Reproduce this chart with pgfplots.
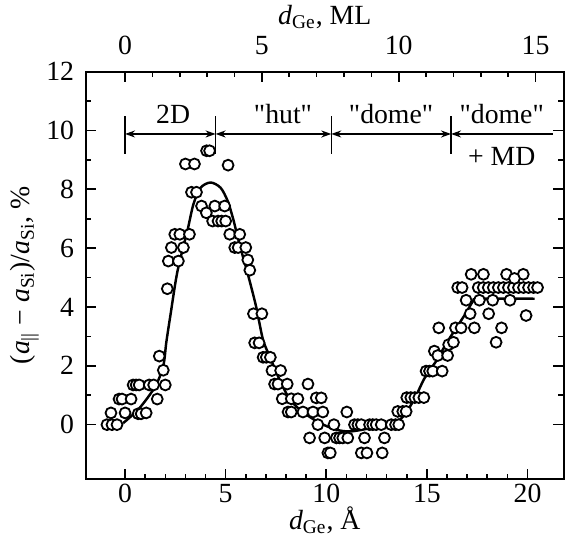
\documentclass[border=0pt]{standalone}
\usepackage{fontspec}
\setmainfont{Liberation Serif}
\usepackage{pgfplots}
\pgfplotsset{compat=1.18}
\usetikzlibrary{arrows.meta}

\begin{document}
\begin{tikzpicture}
\pgfplotsset{
  every axis/.append style={
    width=224pt, height=191pt, scale only axis,
    axis line style={line width=0.95pt},
    tick style={line width=0.75pt, black},
    major tick length=4.8pt, minor tick length=2.6pt,
    tick align=inside,
    tick label style={font=\fontsize{13}{15.5}\selectfont},
    label style={font=\fontsize{13}{15.5}\selectfont, inner sep=0pt},
    /pgf/number format/assume math mode=true,
  }
}
\begin{axis}[
  xmin=-1.95, xmax=21.8, ymin=-1.85, ymax=12,
  xtick={0,5,...,20}, minor x tick num=4,
  ytick={0,2,...,12}, minor y tick num=1,
  xtick pos=bottom, ytick pos=both, yticklabel pos=left,
  xticklabel style={yshift=1.2pt},
  yticklabel style={xshift=-2pt},
  xlabel={\textit{d}\textsubscript{Ge}, Å},
  ylabel={(\textit{a}\textsubscript{||} − \textit{a}\textsubscript{Si})/\textit{a}\textsubscript{Si}, \%},
  xlabel style={yshift=1.5pt},
  clip=false,
]
% fitted curve
\addplot[smooth, tension=0.5, line width=1.15pt] coordinates {
  (-0.1,0.05) (0.7,0.55) (1.5,1.3) (1.9,2.0) (2.05,2.8) (2.25,3.7)
  (2.6,5.2) (3.1,6.6) (3.4,7.5) (3.75,8.05) (4.25,8.23) (4.75,8.05)
  (5.1,7.6) (5.37,7.0) (5.55,6.5) (5.8,5.85) (6.05,5.25) (6.5,4.05)
  (6.85,2.9) (7.2,2.3) (7.7,1.5) (8.2,0.85) (8.85,0.42) (9.7,0.05)
  (10.5,-0.17) (11.2,-0.23) (12.3,-0.11) (13.3,-0.02) (13.9,0.35)
  (14.4,0.9) (14.9,1.6) (15.5,2.2) (16.0,2.8) (16.9,3.75) (17.3,4.2)
  (17.6,4.28) (20.35,4.28)
};
% measured points
\addplot[only marks, mark=*, mark size=2.55pt,
  mark options={line width=0.85pt, draw=black, fill=white}] coordinates {
  (-0.9,0) (-0.65,0) (-0.4,0)
  (-0.7,0.4) (0.0,0.4) (0.65,0.37) (0.8,0.37) (1.05,0.4)
  (-0.3,0.87) (-0.15,0.87) (0.3,0.87) (1.6,0.87)
  (0.4,1.35) (0.55,1.35) (0.7,1.35) (1.2,1.35) (1.42,1.35) (2.0,1.35)
  (1.9,1.85) (1.7,2.33) (2.1,4.62)
  (2.15,5.56) (2.65,5.56) (2.3,6.02) (2.9,6.02) (2.47,6.47) (2.72,6.47) (3.2,6.47)
  (3.3,7.9) (3.55,7.9) (3.0,8.86) (3.45,8.86) (4.05,9.31) (4.2,9.31)
  (3.8,7.43) (4.04,7.2) (4.46,7.43) (4.95,7.43)
  (4.35,6.92) (4.62,6.92) (4.8,6.92) (5.0,6.92) (5.12,8.82)
  (5.2,6.47) (5.7,6.47) (5.45,6.02) (5.62,6.02) (6.0,6.02) (6.1,5.6) (6.2,5.25)
  (6.38,3.77) (6.8,3.77) (6.44,2.78) (6.66,2.78) (6.86,2.29) (7.02,2.29) (7.22,2.29)
  (7.3,1.84) (7.73,1.84) (7.43,1.38) (7.6,1.38) (8.06,1.38) (9.09,1.38)
  (7.81,0.88) (8.26,0.88) (8.59,0.88) (9.5,0.91) (9.75,0.91)
  (8.1,0.43) (8.26,0.43) (8.84,0.43) (9.34,0.43) (9.83,0.43) (11.02,0.43)
  (9.58,0) (10.38,0) (11.4,0) (11.57,0) (11.74,0) (12.15,0) (12.31,0)
  (12.48,0) (12.73,0) (13.23,0) (13.44,0) (13.6,0)
  (9.17,-0.45) (9.92,-0.45) (10.5,-0.45) (10.66,-0.45) (10.82,-0.45)
  (11.07,-0.45) (11.9,-0.45) (12.89,-0.45)
  (10.08,-0.96) (10.2,-0.96) (11.74,-0.96) (12.02,-0.96) (12.78,-0.96)
  (13.55,0.45) (13.8,0.45) (13.97,0.45)
  (14.0,0.92) (14.2,0.92) (14.4,0.92) (14.6,0.92) (14.85,0.92)
  (14.96,1.82) (15.13,1.82) (15.29,1.82) (15.76,1.82)
  (15.37,2.5) (15.54,2.35) (16.03,2.35) (16.08,2.72) (16.32,2.8) (18.44,2.8)
  (15.59,3.29) (16.42,3.29) (16.7,3.29) (17.36,3.29) (18.71,3.29)
  (17.15,3.77) (18.07,3.77) (19.93,3.71)
  (16.95,4.23) (17.61,4.23) (18.27,4.23) (19.13,4.23)
  (16.53,4.66) (16.75,4.66) (17.55,4.66) (17.8,4.66) (18.05,4.66) (18.3,4.66)
  (18.55,4.66) (18.8,4.66) (19.05,4.66) (19.3,4.66) (19.55,4.66) (19.8,4.66)
  (20.05,4.66) (20.3,4.66) (20.5,4.66)
  (17.2,5.11) (17.81,5.11) (18.96,5.11) (19.79,5.11) (19.35,4.97)
};
% growth-stage markers
\draw[line width=0.75pt] (axis cs:0,9.2) -- (axis cs:0,10.5);
\draw[line width=0.75pt] (axis cs:4.5,9.2) -- (axis cs:4.5,10.5);
\draw[line width=0.75pt] (axis cs:10.25,9.2) -- (axis cs:10.25,10.5);
\draw[line width=0.75pt] (axis cs:16.2,9.2) -- (axis cs:16.2,10.5);
\draw[line width=0.65pt, {Stealth[length=4.7pt,width=3.3pt]}-{Stealth[length=4.7pt,width=3.3pt]}]
  (axis cs:0,9.88) -- (axis cs:4.5,9.88);
\draw[line width=0.65pt, {Stealth[length=4.7pt,width=3.3pt]}-{Stealth[length=4.7pt,width=3.3pt]}]
  (axis cs:4.5,9.88) -- (axis cs:10.25,9.88);
\draw[line width=0.65pt, {Stealth[length=4.7pt,width=3.3pt]}-{Stealth[length=4.7pt,width=3.3pt]}]
  (axis cs:10.25,9.88) -- (axis cs:16.2,9.88);
\draw[line width=0.65pt, {Stealth[length=4.7pt,width=3.3pt]}-]
  (axis cs:16.2,9.88) -- (axis cs:21.25,9.88);
\begin{scope}[every node/.style={anchor=base, font=\fontsize{13}{15.5}\selectfont, inner sep=0pt}]
\node at (axis cs:2.39,10.22) {2D};
\node at (axis cs:7.85,10.22) {\textquotedbl hut\textquotedbl};
\node at (axis cs:13.22,10.22) {\textquotedbl dome\textquotedbl};
\node at (axis cs:18.72,10.22) {\textquotedbl dome\textquotedbl};
\node at (axis cs:18.72,8.8) {+ MD};
\end{scope}
\end{axis}
% top axis in monolayers
\begin{axis}[
  xmin=-1.434, xmax=16.03, ymin=0, ymax=1,
  axis x line*=top, axis y line=none,
  x axis line style={-},
  tick align=inside,
  xtick={0,5,10,15}, minor x tick num=4,
  xticklabel style={yshift=4.2pt},
  xlabel={\textit{d}\textsubscript{Ge}, ML},
]
\end{axis}
\path (current bounding box.south west) ++(-5pt,-0.5pt);
\path (current bounding box.north east) ++(2pt,2.5pt);
\end{tikzpicture}
\end{document}
